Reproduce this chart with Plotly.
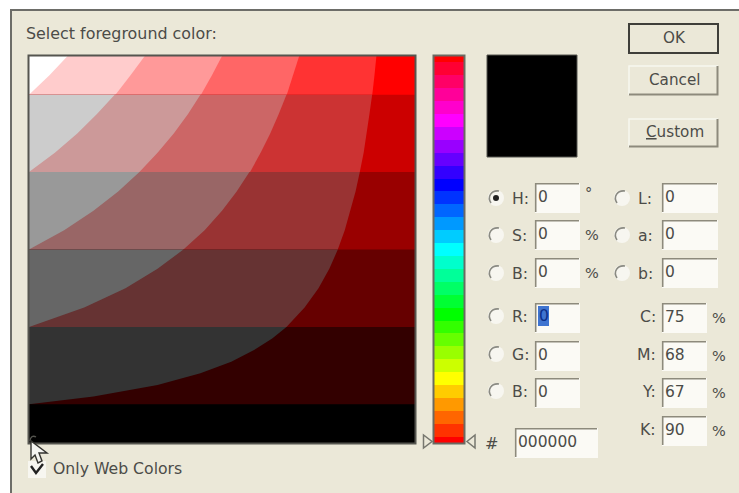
import plotly.graph_objects as go

# ---------- data ----------
brightness_levels = [100, 95, 90, 85, 80, 75, 70, 65, 60, 55, 50, 45, 40, 35, 30, 27, 24, 21, 18, 15, 12, 10]
curve_a = [90, 89.5, 88.9, 88.2, 87.5, 86.7, 85.7, 84.6, 83.3, 81.8, 80, 77.8, 75, 71.4, 66.7, 63, 58.3, 52.4, 44.4, 33.3, 16.7, 0]
curve_b = [70, 68.4, 66.7, 64.7, 62.5, 60, 57.1, 53.8, 50, 45.5, 40, 33.3, 25, 14.3, 0]
curve_c = [50, 47.4, 44.4, 41.2, 37.5, 33.3, 28.6, 23.1, 16.7, 9.1, 0]
curve_d = [30, 26.3, 22.2, 17.6, 12.5, 6.7, 0]
curve_e = [10, 5.3, 0]
band_limits = [100, 90, 70, 50, 30, 10, 0]
band_colors = [
    ["#ff0000", "#ff3333", "#ff6666", "#ff9999", "#ffcccc", "#ffffff"],
    ["#cc0000", "#cc3333", "#cc6666", "#cc9999", "#cccccc"],
    ["#990000", "#993333", "#996666", "#999999"],
    ["#660000", "#663333", "#666666"],
    ["#330000", "#333333"],
    ["#000000"],
]
hue_degrees = list(range(0, 361, 12))
hue_colors = ["#ff0000", "#ff3300", "#ff6600", "#ff9900", "#ffcc00", "#ffff00", "#ccff00", "#99ff00",
              "#66ff00", "#33ff00", "#00ff00", "#00ff33", "#00ff66", "#00ff99", "#00ffcc", "#00ffff",
              "#00ccff", "#0099ff", "#0066ff", "#0033ff", "#0000ff", "#3300ff", "#6600ff", "#9900ff",
              "#cc00ff", "#ff00ff", "#ff00cc", "#ff0099", "#ff0066", "#ff0033", "#ff0000"]
hsb_fields = [("H:", "0", "°"), ("S:", "0", "%"), ("B:", "0", "%")]
lab_fields = [("L:", "0"), ("a:", "0"), ("b:", "0")]
rgb_fields = [("R:", "0"), ("G:", "0"), ("B:", "0")]
cmyk_fields = [("C:", "75"), ("M:", "68"), ("Y:", "67"), ("K:", "90")]
hex_value = "000000"
button_labels = ["OK", "Cancel", "<u>C</u>ustom"]

# ---------- helpers ----------
W, H = 739, 493
FONT = "DejaVu Sans"
INK = "#4c4c48"
BG = "#ebe8d8"
OVERLAP = 0.3  # each band runs a hair under the next one, so no seam shows
shapes, notes = [], []


def rect(x0, y0, x1, y1, fill=None, line=None, width=1, layer="above"):
    shapes.append(dict(type="rect", xref="x3", yref="y3", x0=x0, y0=y0, x1=x1, y1=y1, layer=layer,
                       fillcolor=fill or "rgba(0,0,0,0)", line=dict(color=line or "rgba(0,0,0,0)", width=width if line else 0)))


def path(d, fill=None, line=None, width=1):
    shapes.append(dict(type="path", xref="x3", yref="y3", path=d, layer="above",
                       fillcolor=fill or "rgba(0,0,0,0)", line=dict(color=line or "rgba(0,0,0,0)", width=width if line else 0)))


def text(x, y, s, size=15.7, anchor="left", color=INK):
    notes.append(dict(xref="x3", yref="y3", x=x, y=y, text=s, showarrow=False, xanchor=anchor, yanchor="middle",
                      font=dict(family=FONT, size=size, color=color), borderpad=0, borderwidth=0))


def field(x0, y0, x1, y1, value, size=15.5):
    rect(x0, y0, x1, y1, fill="#fbfaf5")
    path(f"M{x0+.7},{y1-1} L{x0+.7},{y0+.7} L{x1-1},{y0+.7}", line="#8d8a7c", width=1.6)
    text(x0 + 2.5, (y0 + y1) / 2 - 1, value, size=size)


def radio(cx, cy, on=False):
    r = 8
    shapes.append(dict(type="circle", xref="x3", yref="y3", x0=cx-r, y0=cy-r, x1=cx+r, y1=cy+r, layer="above",
                       fillcolor="#f7f6f0", line=dict(width=0, color="rgba(0,0,0,0)")))
    path(f"M{cx-5},{cy+5} C{cx-9},{cy-1} {cx-5},{cy-8} {cx+3},{cy-7}", line="#8a8a82", width=1.6)
    if on:
        shapes.append(dict(type="circle", xref="x3", yref="y3", x0=cx-3, y0=cy-3, x1=cx+3, y1=cy+3, layer="above",
                           fillcolor="#222222", line=dict(width=0, color="rgba(0,0,0,0)")))


def button(y0, y1, label, default=False):
    x0, x1 = 629, 718
    rect(x0, y0, x1, y1, fill=BG)
    if default:
        rect(x0, y0, x1, y1, line="#3f3f3a", width=2)
    else:
        path(f"M{x0},{y1} L{x0},{y0} L{x1},{y0}", line="#f8f7f0", width=1.5)
        path(f"M{x0},{y1-.5} L{x1-.5},{y1-.5} L{x1-.5},{y0}", line="#8d8a7c", width=2)
    text((x0 + x1) / 2 + 1, (y0 + y1) / 2 - 1, label, anchor="center", size=15.2)


fig = go.Figure()
curves = [curve_a, curve_b, curve_c, curve_d, curve_e]

# ---------- colour field, drawn band by band ----------
for i, colors in enumerate(band_colors):
    top, bottom = band_limits[i], band_limits[i + 1]
    under = bottom - OVERLAP
    fig.add_trace(go.Scatter(x=[0, 100, 100, 0], y=[top, top, under, under], fill="toself", fillcolor=colors[0],
                             mode="lines", line=dict(width=0), hoverinfo="skip", showlegend=False))
    for color, curve in zip(colors[1:], curves):
        pts = [(s, b) for s, b in zip(curve, brightness_levels) if bottom <= b <= top]
        if pts:
            low_s, low_b = pts[-1]
            xs = [0] + [p[0] for p in pts]
            ys = [top] + [p[1] for p in pts]
            if low_b == bottom:
                xs += [low_s, 0]
                ys += [under, under]
            else:
                xs += [0]
                ys += [low_b]
            fig.add_trace(go.Scatter(x=xs, y=ys, fill="toself", fillcolor=color, mode="lines",
                                     line=dict(width=0), hoverinfo="skip", showlegend=False))

# ---------- hue strip ----------
n = len(hue_colors)
scale = []
for i, c in enumerate(hue_colors):
    scale += [[i / n, c], [(i + 1) / n, c]]
fig.add_trace(go.Heatmap(x=["hue"], y=hue_degrees, z=[[i] for i in range(n)], xaxis="x2", yaxis="y2",
                         colorscale=scale, zmin=-0.5, zmax=n - 0.5, showscale=False, hoverinfo="skip"))
# keeps the pixel-scale overlay axes alive
fig.add_trace(go.Scatter(x=[0], y=[0], xaxis="x3", yaxis="y3", mode="markers", marker=dict(opacity=0, size=1),
                         hoverinfo="skip", showlegend=False))

# ---------- dialog chrome ----------
shapes.append(dict(type="rect", xref="paper", yref="paper", x0=11 / W, x1=1.02, y0=-0.02, y1=1 - 10 / H, layer="below",
                   fillcolor=BG, line=dict(color="#6d6d68", width=2)))
text(26, 33, "Select foreground color:", size=15.9)

rect(28.5, 55.5, 415.5, 443.5, line="#55554f", width=2)
rect(433.5, 55.5, 464.5, 443.5, line="#6a6a62", width=2)
rect(487, 55, 577, 157, fill="#000000", line="#55554f", width=1)

for (y0, y1), label, default in zip([(24, 53), (66, 95), (119, 147)], button_labels, [True, False, False]):
    button(y0, y1, label, default)

# HSB / Lab rows
for (lab, val, unit), y0, on in zip(hsb_fields, [183, 220, 258], [True, False, False]):
    radio(496, y0 + 15, on)
    text(512, y0 + 15, lab)
    field(535, y0, 580, y0 + 30, val)
    text(585, y0 + (10 if unit == "°" else 15), unit, size=14.5)
for (lab, val), y0 in zip(lab_fields, [183, 220, 258]):
    radio(622, y0 + 15)
    text(638, y0 + 15, lab)
    field(662, y0, 718, y0 + 30, val)

# RGB rows
for (lab, val), y0 in zip(rgb_fields, [303, 341, 378]):
    radio(496, y0 + 13)
    text(512, y0 + 13, lab)
    field(535, y0, 580, y0 + 30, "" if lab == "R:" else val)
rect(538, 306, 549, 326, fill="#3f74d0")
text(539, 316, rgb_fields[0][1], size=15.5, color="#0c2f8a")

# CMYK rows
for (lab, val), y0 in zip(cmyk_fields, [303, 341, 378, 416]):
    text(656, y0 + 13, lab, anchor="right")
    field(662, y0, 707, y0 + 30, val)
    text(712, y0 + 15, "%", size=14.5)

text(485, 443, "#", size=16)
field(515, 428, 598, 458, hex_value, size=15.5)

# slider arrows
path("M423.5,435 L423.5,448 L432,441.5 Z", fill=BG, line="#77776f", width=1.5)
path("M475,435 L475,448 L467,441.5 Z", fill=BG, line="#77776f", width=1.5)

# checkbox and label
rect(28, 461, 46, 478, fill="#f7f6f0")
path("M31,466 L36,473 L43,464", line="#222222", width=2.4)
text(53, 468, "Only Web Colors", size=15.7)

# arrow pointer
path("M30,441 C30,437 33,435 36,437", line="#55554f", width=1.4)
path("M31,441 L31,459 L35,455 L38,463 L42,461 L39,453 L47,453 Z",
     fill="#f4f4f0", line="#33332f", width=1.4)

fig.update_layout(
    width=W, height=H, margin=dict(l=0, r=0, t=0, b=0), autosize=False,
    paper_bgcolor="#ffffff", plot_bgcolor="rgba(0,0,0,0)", showlegend=False,
    shapes=shapes, annotations=notes,
    xaxis=dict(domain=[29 / W, 415 / W], range=[0, 100], visible=False, fixedrange=True),
    yaxis=dict(domain=[1 - 443 / H, 1 - 56 / H], range=[0, 100], visible=False, fixedrange=True),
    xaxis2=dict(domain=[434 / W, 464 / W], visible=False, anchor="y2", fixedrange=True, type="category"),
    yaxis2=dict(domain=[1 - 443 / H, 1 - 56 / H], range=[0, 360], visible=False, anchor="x2", fixedrange=True),
    xaxis3=dict(domain=[0, 1], range=[0, W], visible=False, anchor="y3", fixedrange=True),
    yaxis3=dict(domain=[0, 1], range=[H, 0], visible=False, anchor="x3", fixedrange=True),
)
fig.write_html("out.html", config=dict(displayModeBar=False),
               post_script="document.body.style.margin='0';document.body.style.overflow='hidden';")
